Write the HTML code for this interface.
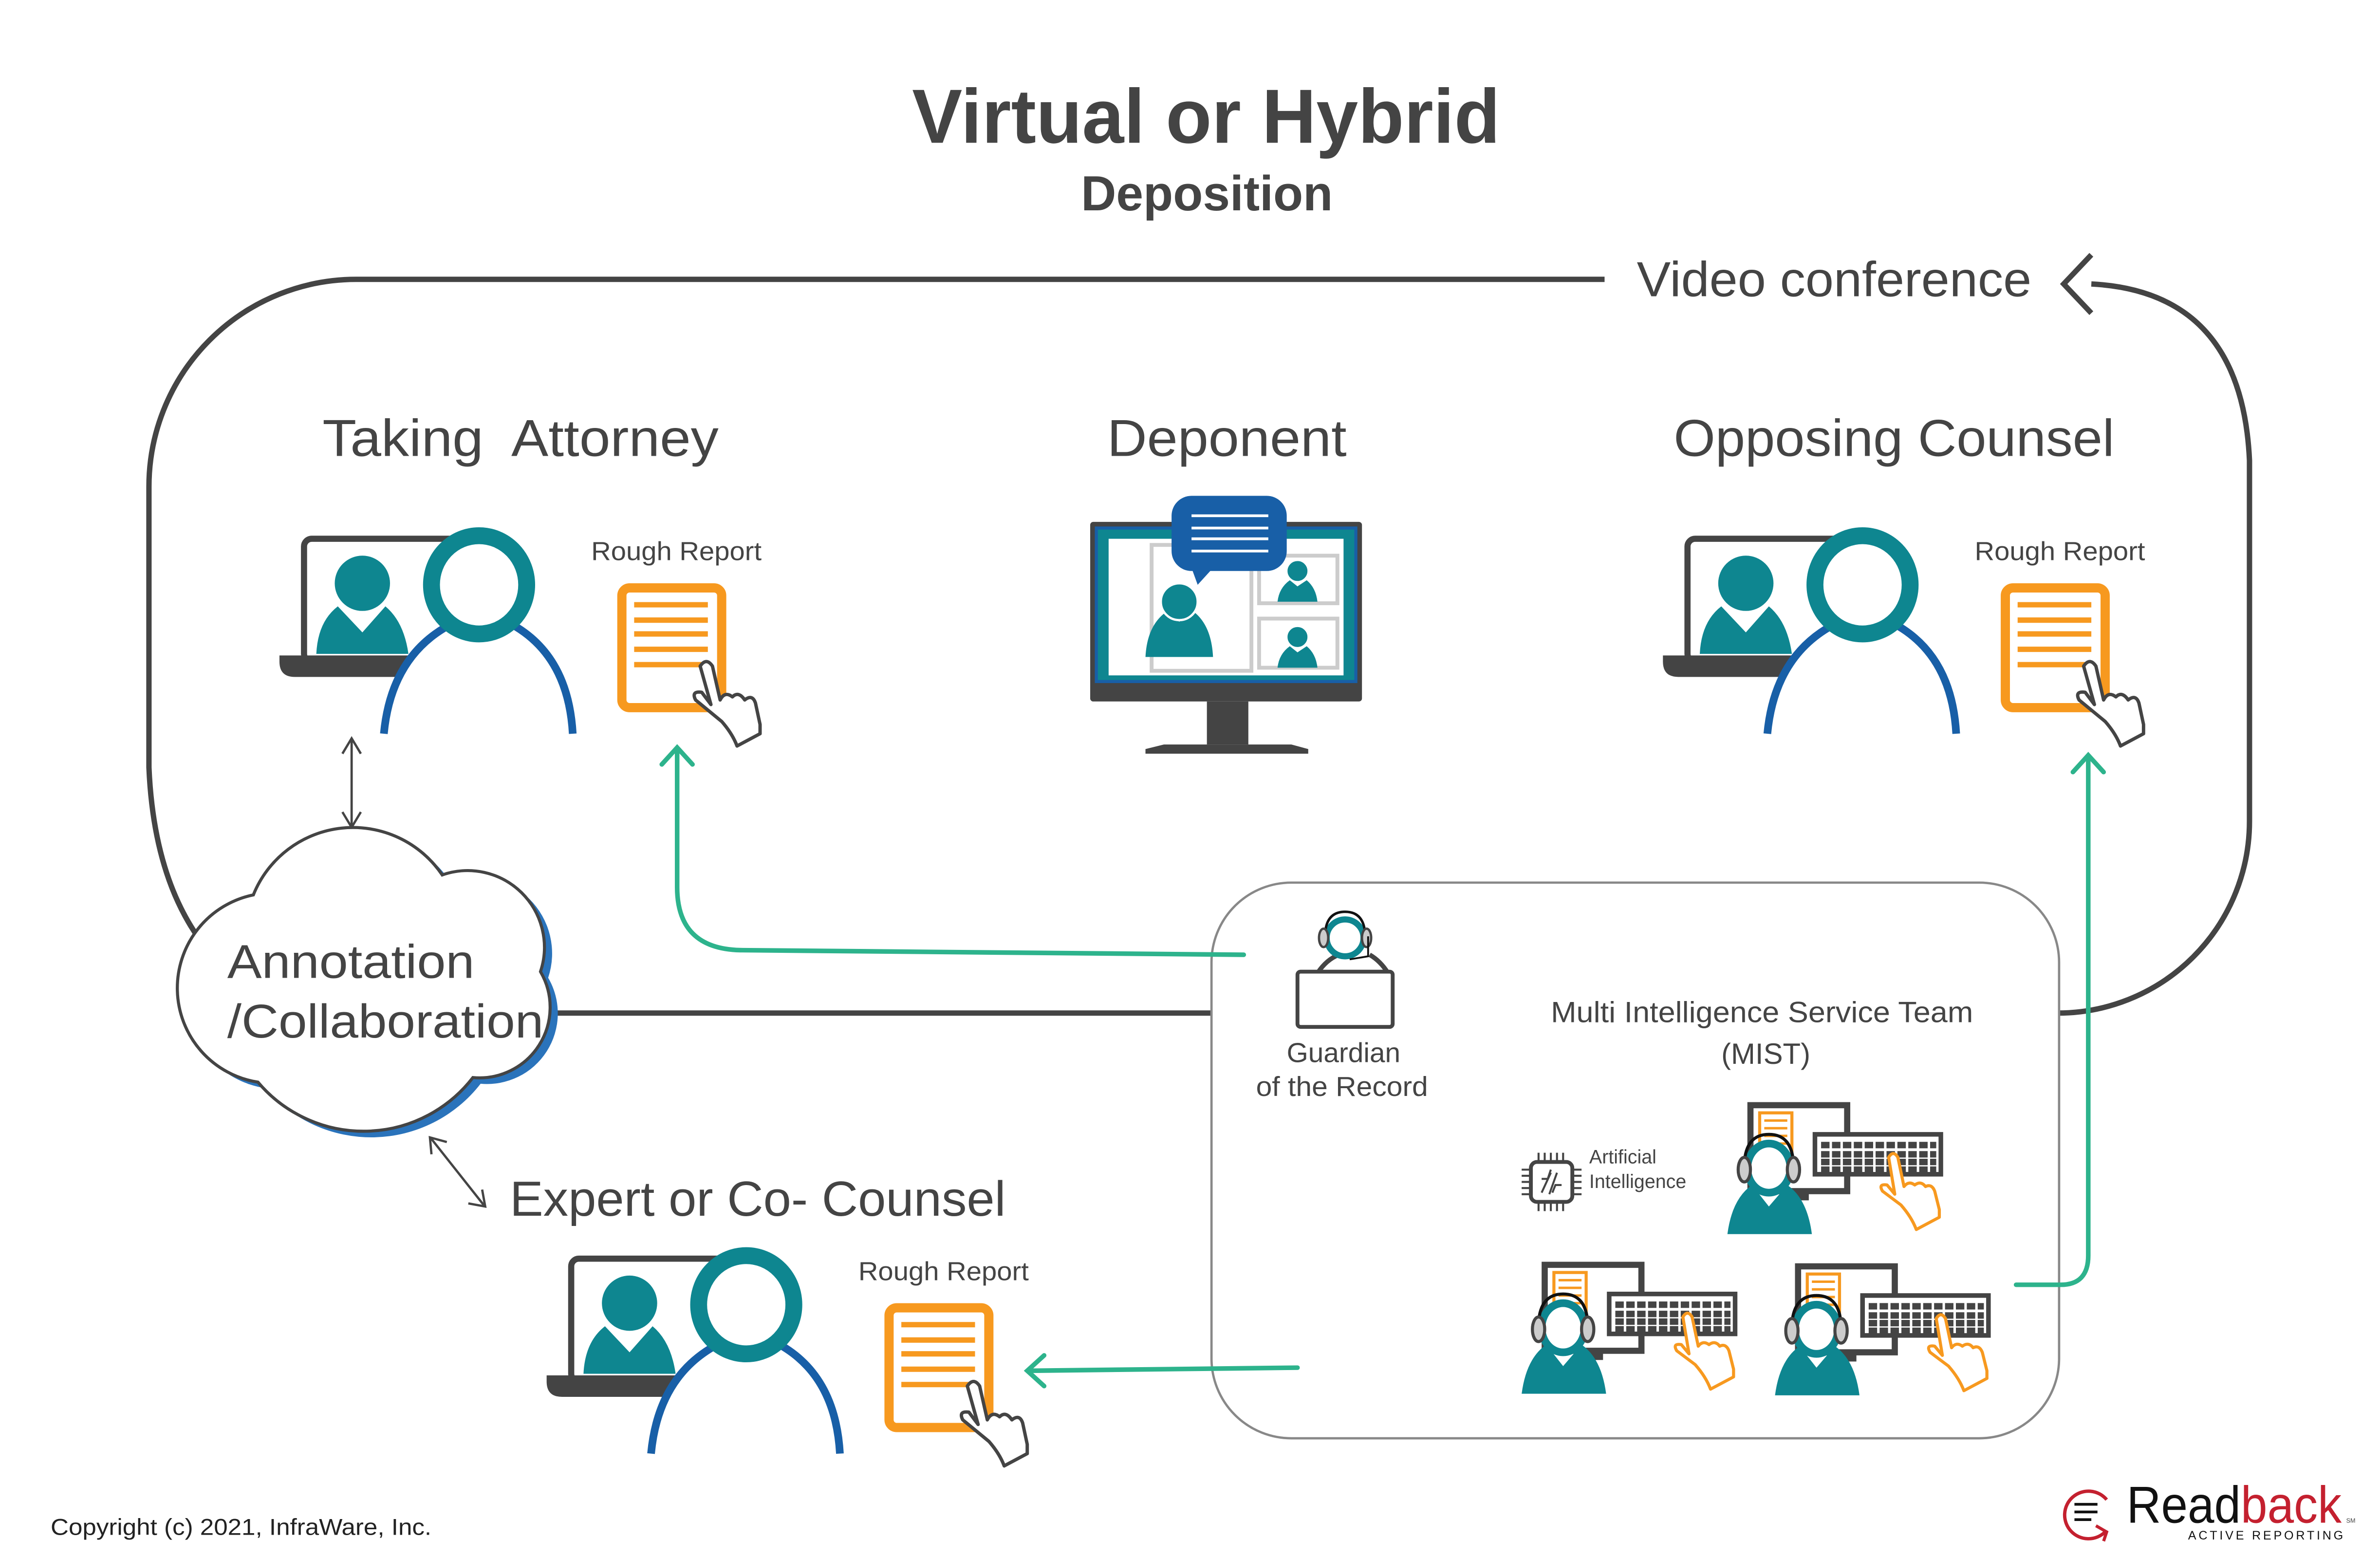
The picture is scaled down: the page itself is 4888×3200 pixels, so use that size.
<!DOCTYPE html>
<html><head><meta charset="utf-8"><style>
html,body{margin:0;padding:0;background:#fff;}
svg{display:block;}
text{font-family:"Liberation Sans",sans-serif;fill:#444;}
</style></head><body>
<svg width="4888" height="3200" viewBox="0 0 1550 1015" preserveAspectRatio="none" xmlns="http://www.w3.org/2000/svg">
<defs>
<g id="att">
  <rect x="198" y="351" width="100" height="80" rx="5" fill="#fff" stroke="#444" stroke-width="4"/>
  <path d="M182,427 H280 V441 H192 Q182,441 182,431 Z" fill="#444"/>
  <circle cx="236" cy="380" r="18" fill="#0e8690"/>
  <path d="M206,426 Q207,405 220,395 L236,412 L251,395 Q263,405 266,426 Z" fill="#0e8690"/>
  <path d="M250,478 Q255,425 297,405 L330,405 Q370,425 373,478 Z" fill="#fff"/>
  <path d="M250,478 Q255,425 297,405" fill="none" stroke="#185fa7" stroke-width="5"/>
  <path d="M330,405 Q370,425 373,478" fill="none" stroke="#185fa7" stroke-width="5"/>
  <ellipse cx="312" cy="381" rx="31" ry="32" fill="#fff" stroke="#0e8690" stroke-width="11"/>
  <text x="385" y="365" font-size="17" textLength="111" lengthAdjust="spacingAndGlyphs">Rough Report</text>
  <rect x="405" y="383" width="65" height="78" rx="5" fill="#fff" stroke="#f7991f" stroke-width="6"/>
  <g stroke="#f7991f" stroke-width="3.5">
    <line x1="413" y1="394" x2="461" y2="394"/><line x1="413" y1="404" x2="461" y2="404"/>
    <line x1="413" y1="413" x2="461" y2="413"/><line x1="413" y1="423" x2="461" y2="423"/>
    <line x1="413" y1="433" x2="461" y2="433"/>
  </g>
  <path d="M456,434 Q460,428 464,434 L469,456 Q472,450 477,454 Q481,450 485,456 Q490,452 492,458 L495,472 L495,478 L480,486 Q477,478 470,470 L453,456 Q450,450 457,451 L463,459 Z" fill="#fff" stroke="#444" stroke-width="2.2" stroke-linejoin="round"/>
</g>
<g id="wk">
  <rect x="1006" y="824" width="63" height="56" fill="#fff" stroke="#444" stroke-width="4"/>
  <rect x="1030" y="880" width="14" height="6" fill="#444"/>
  <rect x="1012" y="829" width="21" height="32" fill="#fff" stroke="#f7991f" stroke-width="2"/>
  <g stroke="#f7991f" stroke-width="1.6"><line x1="1015" y1="834" x2="1030" y2="834"/><line x1="1015" y1="839" x2="1030" y2="839"/><line x1="1015" y1="844" x2="1030" y2="844"/><line x1="1015" y1="849" x2="1030" y2="849"/><line x1="1015" y1="854" x2="1030" y2="854"/></g>
  <rect x="1048" y="843" width="82" height="26" fill="#fff" stroke="#444" stroke-width="3"/>
  <g stroke="#444" stroke-width="4.2" stroke-dasharray="5.5 1.6"><line x1="1052" y1="850" x2="1127" y2="850"/><line x1="1052" y1="856" x2="1127" y2="856"/><line x1="1052" y1="861" x2="1127" y2="861"/><line x1="1052" y1="866" x2="1127" y2="866"/></g>
  <path d="M1096,858 Q1099,853 1102,858 L1106,877 Q1109,873 1113,876 Q1117,873 1120,877 Q1124,875 1126,880 L1129,892 L1129,897 L1114,905 Q1111,897 1104,889 L1092,880 Q1089,875 1095,876 L1100,882 Z" fill="#fff" stroke="#f7991f" stroke-width="2" stroke-linejoin="round"/>
  <path d="M991,908 Q994,885 1007,876 L1018,890 L1030,876 Q1043,885 1046,908 Z" fill="#0e8690"/>
  <ellipse cx="1018" cy="865" rx="14" ry="16" fill="#fff" stroke="#0e8690" stroke-width="5"/>
  <path d="M1002,862 Q1003,843 1018,843 Q1033,843 1034,862" fill="none" stroke="#111" stroke-width="2"/>
  <ellipse cx="1002" cy="866" rx="4" ry="8" fill="#ccc" stroke="#444" stroke-width="2"/>
  <ellipse cx="1034" cy="866" rx="4" ry="8" fill="#ccc" stroke="#444" stroke-width="2"/>
</g>
</defs>

<text x="594" y="93" font-size="50" font-weight="bold" textLength="383" lengthAdjust="spacingAndGlyphs">Virtual or Hybrid</text>
<text x="704" y="137" font-size="32" font-weight="bold" textLength="164" lengthAdjust="spacingAndGlyphs">Deposition</text>

<path d="M1045,182 H232 A135,135 0 0 0 97,317 V500 Q100,570 130,612" fill="none" stroke="#444" stroke-width="3.5"/>
<path d="M360,660 H1340 A125,125 0 0 0 1465,535 V300 Q1460,190 1362,185" fill="none" stroke="#444" stroke-width="3.5"/>
<path d="M1362,166 L1344,185 L1362,204" fill="none" stroke="#444" stroke-width="3.5"/>
<text x="1066" y="193" font-size="32" textLength="257" lengthAdjust="spacingAndGlyphs">Video conference</text>

<text x="210" y="297" font-size="34" textLength="258" lengthAdjust="spacingAndGlyphs" xml:space="preserve">Taking  Attorney</text>
<text x="721" y="297" font-size="34" textLength="156" lengthAdjust="spacingAndGlyphs">Deponent</text>
<text x="1090" y="297" font-size="34" textLength="287" lengthAdjust="spacingAndGlyphs">Opposing Counsel</text>

<use href="#att"/>
<use href="#att" transform="translate(901,0)"/>
<use href="#att" transform="translate(174,469)"/>

<rect x="710" y="340" width="177" height="117" rx="2" fill="#444"/>
<rect x="713" y="343" width="171" height="102" fill="#185fa7"/>
<rect x="715" y="345" width="167" height="98" fill="#0e8690"/>
<rect x="722" y="351" width="153" height="89" fill="#fff"/>
<rect x="786" y="457" width="27" height="28" fill="#444"/>
<path d="M758,485 H841 L852,488 V491 H746 V488 Z" fill="#444"/>
<rect x="750" y="355" width="65" height="82" fill="none" stroke="#ccc" stroke-width="2.5"/>
<rect x="820" y="362" width="51" height="31" fill="none" stroke="#ccc" stroke-width="2.5"/>
<rect x="820" y="403" width="51" height="32" fill="none" stroke="#ccc" stroke-width="2.5"/>
<path d="M746,428 Q747,408 759,399 L768,405 L778,399 Q789,408 790,428 Z" fill="#0e8690"/>
<circle cx="768" cy="392" r="12" fill="#0e8690" stroke="#fff" stroke-width="1.5"/>
<path d="M832,392 Q833,383 840,378 L845,382 L851,378 Q857,383 858,392 Z" fill="#0e8690"/>
<circle cx="845" cy="372" r="7" fill="#0e8690" stroke="#fff" stroke-width="1"/>
<path d="M832,435 Q833,426 840,421 L845,425 L851,421 Q857,426 858,435 Z" fill="#0e8690"/>
<circle cx="845" cy="415" r="7" fill="#0e8690" stroke="#fff" stroke-width="1"/>
<rect x="763" y="323" width="75" height="49" rx="13" fill="#185fa7"/>
<path d="M776,370 L780,381 L790,370 Z" fill="#185fa7"/>
<g stroke="#fff" stroke-width="1.8"><line x1="776" y1="336" x2="826" y2="336"/><line x1="776" y1="344" x2="826" y2="344"/><line x1="776" y1="351" x2="826" y2="351"/><line x1="776" y1="359" x2="826" y2="359"/></g>

<g fill="none" stroke="#444" stroke-width="1.5">
  <line x1="229" y1="482" x2="229" y2="538"/>
  <path d="M223,491 L229,481 L235,491 M223,529 L229,539 L235,529"/>
  <line x1="281" y1="742" x2="315" y2="785"/>
  <path d="M281,752 L280,741 L291,744 M305,784 L316,786 L314,775"/>
</g>

<rect x="789" y="575" width="552" height="362" rx="52" fill="#fff" stroke="#888" stroke-width="1.5"/>

<g fill="none" stroke="#2db38c" stroke-width="3" stroke-linecap="round">
  <path d="M810,622 L482,619 Q441,618 441,578 V490"/>
  <path d="M431,498 L441,487 L451,498"/>
  <path d="M1313,837 H1342 Q1360,837 1360,818 V494"/>
  <path d="M1350,503 L1360,492 L1370,503"/>
  <path d="M845,891 L671,893"/>
  <path d="M680,883 L669,893 L680,903"/>
</g>

<g transform="translate(5,4)"><path d="M165,583 A70,70 0 0 1 288,570 A50,50 0 0 1 352,633 A46,46 0 0 1 308,702 A90,90 0 0 1 168,705 A62,62 0 0 1 165,583 Z" fill="#2a73bb"/></g>
<path d="M165,583 A70,70 0 0 1 288,570 A50,50 0 0 1 352,633 A46,46 0 0 1 308,702 A90,90 0 0 1 168,705 A62,62 0 0 1 165,583 Z" fill="#fff" stroke="#444" stroke-width="2"/>
<text x="148" y="637" font-size="31" textLength="161" lengthAdjust="spacingAndGlyphs">Annotation</text>
<text x="148" y="676" font-size="31" textLength="206" lengthAdjust="spacingAndGlyphs">/Collaboration</text>

<text x="332" y="792" font-size="32" textLength="323" lengthAdjust="spacingAndGlyphs">Expert or Co- Counsel</text>

<path d="M858,634 Q864,625 872,622 M892,622 Q899,626 904,634" stroke="#444" stroke-width="3" fill="none"/>
<rect x="845" y="633" width="62" height="36" rx="2" fill="#fff" stroke="#444" stroke-width="2.5"/>
<circle cx="876" cy="611" r="12" fill="#fff" stroke="#0e8690" stroke-width="4"/>
<path d="M863,608 Q864,594 876,594 Q888,594 889,608" fill="none" stroke="#111" stroke-width="1.6"/>
<ellipse cx="862" cy="611" rx="3" ry="6" fill="#ccc" stroke="#444" stroke-width="1.5"/>
<ellipse cx="890" cy="611" rx="3" ry="6" fill="#ccc" stroke="#444" stroke-width="1.5"/>
<path d="M891,610 L891,623 L879,625" fill="none" stroke="#111" stroke-width="1.2"/>
<text x="875" y="692" font-size="18" text-anchor="middle">Guardian</text>
<text x="874" y="714" font-size="18" text-anchor="middle" textLength="112" lengthAdjust="spacingAndGlyphs">of the Record</text>

<text x="1010" y="666" font-size="19" textLength="275" lengthAdjust="spacingAndGlyphs">Multi Intelligence Service Team</text>
<text x="1150" y="693" font-size="19" text-anchor="middle">(MIST)</text>

<rect x="997" y="757" width="27" height="26" rx="4" fill="#fff" stroke="#444" stroke-width="2.5"/>
<g stroke="#444" stroke-width="1.3">
  <path d="M1002,751 V757 M1006,751 V757 M1010,751 V757 M1014,751 V757 M1018,751 V757 M1002,783 V789 M1006,783 V789 M1010,783 V789 M1014,783 V789 M1018,783 V789 M991,762 H997 M991,766 H997 M991,770 H997 M991,774 H997 M991,778 H997 M1024,762 H1030 M1024,766 H1030 M1024,770 H1030 M1024,774 H1030 M1024,778 H1030"/>
  <path d="M1004,777 L1010,764 M1014,764 L1009,778 M1004,768 H1008 L1010,762 M1011,777 L1013,772 H1017" fill="none"/>
</g>
<text x="1035" y="758" font-size="12.5">Artificial</text>
<text x="1035" y="774" font-size="12.5">Intelligence</text>

<use href="#wk"/>
<use href="#wk" transform="translate(165,1)"/>
<use href="#wk" transform="translate(134,-104)"/>

<text x="33" y="1000" font-size="15" textLength="248" lengthAdjust="spacingAndGlyphs" style="fill:#222">Copyright (c) 2021, InfraWare, Inc.</text>
<path d="M1371,998 A15.5,15.5 0 1 1 1372,977" fill="none" stroke="#c4202f" stroke-width="2.2"/>
<path d="M1365,994 L1372,998 L1370,1004" fill="none" stroke="#c4202f" stroke-width="2"/>
<g stroke="#111" stroke-width="1.8"><line x1="1351" y1="980" x2="1366" y2="980"/><line x1="1351" y1="985" x2="1366" y2="985"/><line x1="1351" y1="990" x2="1362" y2="990"/></g>
<text x="1385" y="992" font-size="34" textLength="140" lengthAdjust="spacingAndGlyphs" style="fill:#111">Read<tspan style="fill:#c4202f">back</tspan></text>
<text x="1528" y="992" font-size="4" style="fill:#444">SM</text>
<text x="1425" y="1003" font-size="8" textLength="101" lengthAdjust="spacing" style="fill:#111">ACTIVE REPORTING</text>
</svg>
</body></html>
